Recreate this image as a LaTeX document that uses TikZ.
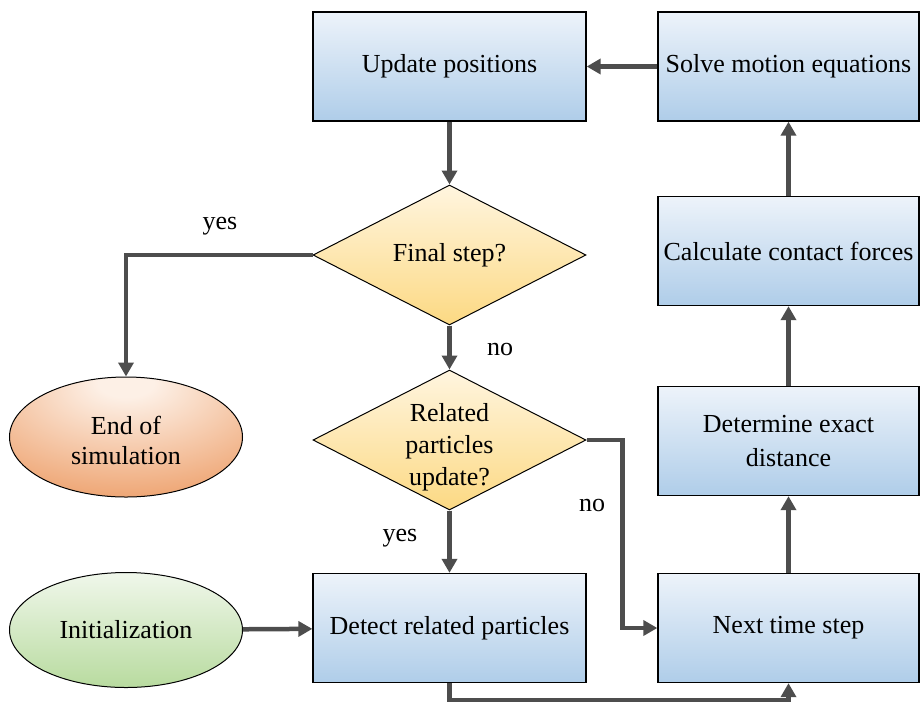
\documentclass[tikz,border=0pt]{standalone}
\usepackage{fontspec}
\setmainfont{Liberation Serif}
\usetikzlibrary{shapes.geometric,arrows.meta}

\definecolor{boxtop}{HTML}{EDF3FA}
\definecolor{boxbot}{HTML}{AFCDE9}
\definecolor{dectop}{HTML}{FFF5DF}
\definecolor{decbot}{HTML}{FCD983}
\definecolor{inittop}{HTML}{F0F7EB}
\definecolor{initbot}{HTML}{B8DB9F}
\definecolor{endin}{HTML}{FDF0E6}
\definecolor{endout}{HTML}{EB9459}
\definecolor{arrowgray}{HTML}{4D4D4D}

\pgfdeclareradialshading{endshade}{\pgfpoint{0bp}{24bp}}{color(0bp)=(endin); color(6bp)=(endin); color(48bp)=(endout); color(100bp)=(endout)}

\tikzset{
	procbox/.style={rectangle, draw=black, line width=1.3pt, top color=boxtop, bottom color=boxbot, minimum height=109pt, align=center, inner sep=0pt},
	leftbox/.style={procbox, minimum width=273pt},
	rightbox/.style={procbox, minimum width=261pt},
	decision/.style={diamond, draw=black, line width=1pt, top color=dectop, bottom color=decbot, minimum width=273pt, minimum height=140pt, inner sep=0pt, aspect=2},
	terminal/.style={ellipse, draw=black, line width=1pt, minimum width=233pt, minimum height=115pt, inner sep=0pt, align=center},
	flowarrow/.style={draw=arrowgray, line width=4.5pt, -{Triangle[length=14pt,width=15pt]}},
	flowlabel/.style={inner sep=0pt}
}

\begin{document}
\begin{tikzpicture}[x=1pt, y=-1pt, font=\fontsize{26}{34}\selectfont]
			\useasboundingbox (0,0) rectangle (921,705);

			\node[leftbox] (update) at (449.5,66.5) {Update positions};
			\node[rightbox] (solve) at (788.5,66.5) {Solve motion equations};
			\node[rightbox] (calc) at (788.5,251) {Calculate contact forces};
			\node[rightbox] (determine) at (788.5,441) {Determine exact\\distance};
			\node[rightbox] (next) at (788.5,628) {Next time step};
			\node[leftbox] (detect) at (449.5,628) {Detect related particles};

			\node[decision] (final) at (449.5,255) {Final step?};
			\node[decision] (related) at (449.5,440) {\smash{\raisebox{-13pt}{\fontsize{26}{32}\selectfont\begin{tabular}{@{}c@{}}Related\\particles\\update?\end{tabular}}}};

			\node[terminal, minimum height=120pt, shading=endshade] (endsim) at (126,437) {\smash{\raisebox{-13pt}{\fontsize{26}{30}\selectfont\begin{tabular}{@{}c@{}}End of\\simulation\end{tabular}}}};
			\node[terminal, top color=inittop, bottom color=initbot] (init) at (126,630) {Initialization};

			\draw[flowarrow] (solve) -- (update);
			\draw[flowarrow] (update) -- (final);
			\draw[flowarrow] (final.west) -| (endsim.north);
			\draw[flowarrow] (final) -- (related);
			\draw[flowarrow] (related) -- (detect);
			\draw[flowarrow] (related.east) -- ++(36,0) |- (next.west);
			\draw[flowarrow] (init) -- (detect);
			\draw[flowarrow] (detect.south) -- ++(0,17) -| (next.south);
			\draw[flowarrow] (next) -- (determine);
			\draw[flowarrow] (determine) -- (calc);
			\draw[flowarrow] (calc) -- (solve);

			\node[flowlabel] (yesend) at (220,226) {yes};
			\node[flowlabel] (norelated) at (500,349) {no};
			\node[flowlabel] (nonext) at (592,505) {no};
			\node[flowlabel] (yesdetect) at (400,538) {yes};
\end{tikzpicture}
\end{document}
